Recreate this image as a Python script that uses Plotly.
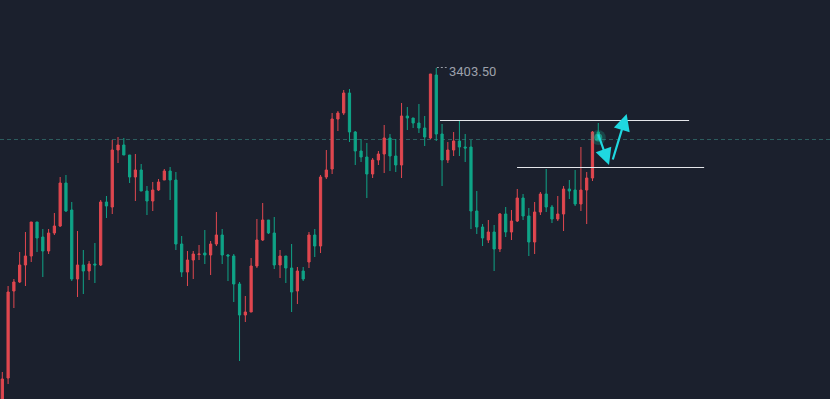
import plotly.graph_objects as go

# OHLC values (price units)
opens = [3061.5,3093.5,3180.5,3189.5,3206.5,3215.5,3249.5,3234.5,3220.5,3238.5,
         3245.5,3288.5,3261.5,3192.5,3206.5,3200.5,3207.5,3206.5,3269.5,3264.5,
         3321.5,3326.5,3316.5,3294.5,3301.5,3280.5,3270.5,3281.5,3291.5,3300.5,
         3291.5,3227.5,3199.5,3211.5,3217.0,3218.5,3216.5,3227.5,3236.5,3216.5,
         3215.5,3187.5,3156.5,3159.5,3205.5,3231.5,3251.5,3238.5,3206.5,3215.5,
         3203.5,3180.5,3200.5,3209.5,3236.5,3225.5,3294.5,3302.5,3352.5,3358.5,
         3378.5,3339.5,3320.5,3314.5,3297.5,3311.5,3317.5,3333.5,3315.5,3306.5,
         3355.5,3353.5,3348.5,3343.5,3333.5,3396.5,3337.5,3311.5,3321.5,3330.5,
         3324.5,3324.5,3260.5,3244.5,3231.5,3239.5,3222.5,3257.5,3239.5,3250.5,
         3273.5,3255.5,3229.5,3259.5,3277.5,3264.5,3252.5,3257.5,3282.5,3281.5,
         3267.5,3281.5,3293.5,3339.5]
highs = [3099.5,3185.5,3192.5,3219.5,3239.5,3249.5,3249.5,3242.5,3242.5,3258.5,
         3294.5,3296.5,3269.5,3240.5,3221.5,3210.5,3228.5,3271.5,3275.5,3331.5,
         3334.5,3333.5,3316.5,3317.5,3307.5,3285.5,3289.5,3292.5,3302.5,3304.5,
         3299.5,3235.5,3220.5,3220.5,3226.5,3241.5,3230.5,3259.5,3242.5,3217.5,
         3217.5,3189.5,3175.5,3213.5,3252.5,3268.5,3251.5,3254.5,3221.5,3215.5,
         3227.5,3204.5,3204.5,3239.5,3242.5,3296.5,3321.5,3358.5,3360.5,3381.5,
         3382.5,3340.5,3332.5,3328.5,3313.5,3320.5,3346.5,3337.5,3332.5,3368.5,
         3364.5,3353.5,3367.5,3355.5,3397.5,3403.5,3347.5,3329.5,3339.5,3350.5,
         3337.5,3331.5,3280.5,3247.5,3251.5,3246.5,3258.5,3264.5,3261.5,3282.5,
         3277.5,3263.5,3269.5,3279.5,3302.5,3266.5,3275.5,3285.5,3291.5,3301.5,
         3324.5,3299.5,3340.5,3348.5]
lows = [3056.5,3087.5,3163.5,3188.5,3185.5,3209.5,3219.5,3194.5,3217.5,3236.5,
        3244.5,3259.5,3190.5,3174.5,3177.5,3191.5,3188.5,3205.5,3253.5,3257.5,
        3308.5,3316.5,3288.5,3270.5,3280.5,3256.5,3260.5,3280.5,3291.5,3271.5,
        3221.5,3194.5,3185.5,3192.5,3211.5,3207.5,3196.5,3225.5,3207.5,3190.5,
        3169.5,3110.5,3149.5,3159.5,3203.5,3230.5,3237.5,3202.5,3193.5,3188.5,
        3159.5,3167.5,3190.5,3203.5,3214.5,3218.5,3292.5,3297.5,3340.5,3356.5,
        3329.5,3306.5,3309.5,3273.5,3293.5,3306.5,3298.5,3300.5,3299.5,3293.5,
        3341.5,3343.5,3338.5,3325.5,3332.5,3330.5,3285.5,3308.5,3315.5,3315.5,
        3309.5,3242.5,3237.5,3225.5,3228.5,3200.5,3219.5,3234.5,3231.5,3249.5,
        3251.5,3215.5,3217.5,3256.5,3259.5,3248.5,3250.5,3240.5,3272.5,3265.5,
        3260.5,3247.5,3290.5,3331.5]
closes = [3092.5,3179.5,3189.5,3206.5,3215.5,3249.5,3233.5,3220.5,3238.5,3245.5,
          3288.5,3260.5,3192.5,3206.5,3200.5,3207.5,3206.5,3269.5,3265.5,3321.5,
          3326.5,3316.5,3294.5,3301.5,3280.5,3270.5,3281.5,3289.5,3300.5,3291.5,
          3227.5,3199.5,3211.5,3217.5,3217.5,3216.5,3227.5,3236.5,3216.5,3215.5,
          3187.5,3156.5,3159.5,3205.5,3231.5,3251.5,3238.5,3206.5,3215.5,3203.5,
          3179.5,3200.5,3192.5,3236.5,3225.5,3294.5,3301.5,3352.5,3358.5,3378.5,
          3339.5,3320.5,3314.5,3297.5,3311.5,3317.5,3333.5,3315.5,3306.5,3355.5,
          3353.5,3348.5,3343.5,3334.5,3397.5,3337.5,3311.5,3321.5,3330.5,3324.5,
          3323.5,3260.5,3244.5,3233.5,3239.5,3222.5,3257.5,3239.5,3250.5,3273.5,
          3255.5,3229.5,3259.5,3277.5,3264.5,3252.5,3257.5,3282.5,3280.5,3267.5,
          3281.5,3293.5,3339.5,3332.5]
idx = list(range(len(opens)))

high_label = "3403.50"
high_value = 3403.5
last_price = closes[-1]

# drawn levels: (x0, x1, price)
levels_x0 = [75.65, 88.96]
levels_x1 = [118.7, 121.3]
levels_y = [3351.0, 3304.0]
# drawn arrows: tail (x, y) -> head (x, y)
arrow_tail_x = [102.9, 105.43]
arrow_tail_y = [3338.5, 3310.5]
arrow_head_x = [104.86, 107.9]
arrow_head_y = [3306.5, 3357.5]

UP = "#e0474f"
DOWN = "#0fa487"
BG = "#1b202d"

fig = go.Figure()
fig.add_trace(go.Candlestick(
    x=idx, open=opens, high=highs, low=lows, close=closes,
    increasing=dict(line=dict(color=UP, width=1), fillcolor=UP),
    decreasing=dict(line=dict(color=DOWN, width=1), fillcolor=DOWN),
    whiskerwidth=0, hoverinfo="skip", showlegend=False))

# glow at last candle
fig.add_trace(go.Scatter(x=[idx[-1]], y=[last_price + 1.5], mode="markers",
                         marker=dict(size=15, color="rgba(25,200,170,0.22)", line=dict(width=0)),
                         hoverinfo="skip", showlegend=False))
fig.add_trace(go.Scatter(x=[idx[-1]], y=[last_price + 1.5], mode="markers",
                         marker=dict(size=8, color="rgba(30,210,175,0.55)", line=dict(width=0)),
                         hoverinfo="skip", showlegend=False))

shapes = []
# current price dashed line
shapes.append(dict(type="line", xref="paper", x0=0, x1=1, yref="y", y0=last_price - 0.5, y1=last_price - 0.5,
                   line=dict(color="#2c5c5e", width=1, dash="4px,3px"), layer="below"))
for x0, x1, y in zip(levels_x0, levels_x1, levels_y):
    shapes.append(dict(type="line", x0=x0, x1=x1, y0=y, y1=y,
                       line=dict(color="#e4e6ea", width=1)))
# dotted leader to high label
hi_i = highs.index(max(highs))
shapes.append(dict(type="line", x0=hi_i + 0.1, x1=hi_i + 1.8, y0=high_value + 0.5, y1=high_value + 0.5,
                   line=dict(color="#9a9ea8", width=1, dash="2px,2px")))

annotations = [dict(x=hi_i + 1.85, y=high_value - 3, text=high_label, showarrow=False,
                    xanchor="left", yanchor="middle",
                    font=dict(family="Roboto, Open Sans, sans-serif", size=13, color="#9da1ab"))]
for tx, ty, hx, hy in zip(arrow_tail_x, arrow_tail_y, arrow_head_x, arrow_head_y):
    annotations.append(dict(x=hx, y=hy, ax=tx, ay=ty, xref="x", yref="y", axref="x", ayref="y",
                            showarrow=True, arrowhead=2, arrowsize=1.5, arrowwidth=2.2,
                            arrowcolor="#1fd8e0", text=""))

fig.update_layout(
    width=830, height=399, margin=dict(l=0, r=0, t=0, b=0),
    paper_bgcolor=BG, plot_bgcolor=BG, boxgap=0.45,
    xaxis=dict(range=[-0.4, 143.05], visible=False, rangeslider=dict(visible=False), fixedrange=True),
    yaxis=dict(range=[3072.5, 3471.5], visible=False, fixedrange=True),
    shapes=shapes, annotations=annotations, showlegend=False, hovermode=False)

fig.write_html("out.html", config=dict(displayModeBar=False, staticPlot=True))

# remove the default page margin so the chart fills the window
with open("out.html", "r", encoding="utf-8") as f:
    html = f.read()
html = html.replace("<head>", "<head><style>html,body{margin:0;padding:0;background:%s;overflow:hidden;}</style>" % BG, 1)
with open("out.html", "w", encoding="utf-8") as f:
    f.write(html)
